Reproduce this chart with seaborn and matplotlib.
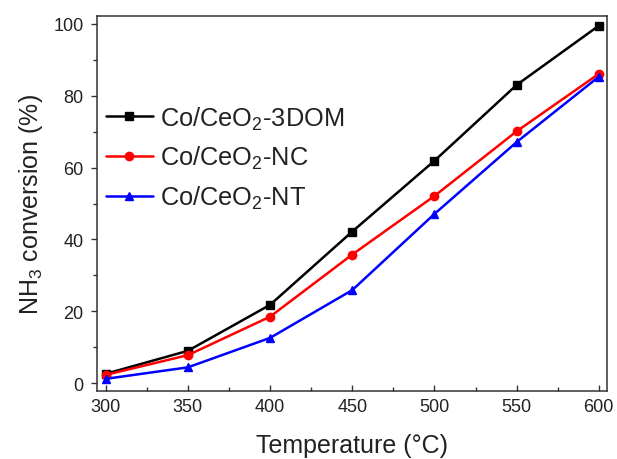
import matplotlib
matplotlib.use("Agg")
import matplotlib.pyplot as plt
from matplotlib.ticker import MultipleLocator
import seaborn as sns
import pandas as pd

temperature = [300, 350, 400, 450, 500, 550, 600]
conv_3dom = [2.6, 9.0, 21.8, 42.2, 61.9, 83.0, 99.5]
conv_nc = [2.3, 7.8, 18.5, 35.8, 52.1, 70.1, 86.1]
conv_nt = [1.2, 4.4, 12.6, 25.9, 47.1, 67.1, 85.3]

series_names = ["Co/CeO$_2$-3DOM", "Co/CeO$_2$-NC", "Co/CeO$_2$-NT"]
series_values = [conv_3dom, conv_nc, conv_nt]
series_colors = ["#000000", "#ff0000", "#0000ff"]
series_markers = ["s", "o", "^"]

rows = []
for name, vals in zip(series_names, series_values):
    for t, v in zip(temperature, vals):
        rows.append({"Temperature": t, "Conversion": v, "Sample": name})
df = pd.DataFrame(rows)

sns.set_theme(style="ticks")
plt.rcParams["font.family"] = ["Liberation Sans", "DejaVu Sans"]
plt.rcParams["mathtext.fontset"] = "custom"
plt.rcParams["mathtext.rm"] = "Liberation Sans"
plt.rcParams["mathtext.it"] = "Liberation Sans:italic"
plt.rcParams["mathtext.default"] = "regular"

fig = plt.figure(figsize=(6.17, 4.6), dpi=100)
ax = fig.add_axes([0.1567, 0.1485, 0.9838 - 0.1567, 0.963 - 0.1485])

sns.lineplot(
    data=df, x="Temperature", y="Conversion", hue="Sample", style="Sample",
    hue_order=series_names, style_order=series_names,
    palette=dict(zip(series_names, series_colors)),
    markers=dict(zip(series_names, series_markers)),
    dashes=False, linewidth=1.8, markersize=6, markeredgewidth=1.0,
    ax=ax,
)
# markers outlined in their own series colour
for line in ax.lines:
    line.set_markeredgecolor(line.get_color())

ax.set_xlim(294.5, 605)
ax.set_ylim(-2.1, 102.2)
ax.xaxis.set_major_locator(MultipleLocator(50))
ax.xaxis.set_minor_locator(MultipleLocator(25))
ax.yaxis.set_major_locator(MultipleLocator(20))
ax.yaxis.set_minor_locator(MultipleLocator(10))
ax.tick_params(axis="x", which="both", direction="in", colors="#333333",
               labelcolor="#222222", labelsize=13, width=1.0)
ax.tick_params(axis="y", which="both", direction="out", colors="#333333",
               labelcolor="#222222", labelsize=13, width=1.0)
ax.tick_params(which="major", length=4.5, pad=5)
ax.tick_params(which="minor", length=3)
for s in ax.spines.values():
    s.set_visible(True)
    s.set_linewidth(1.1)
    s.set_color("#333333")

ax.set_xlabel("Temperature (°C)", fontsize=18, color="#222222", labelpad=13)
ax.set_ylabel("NH$_3$ conversion (%)", fontsize=18, color="#222222", labelpad=6)

leg = ax.legend(loc="upper left", bbox_to_anchor=(-0.012, 0.805), frameon=False,
                fontsize=18.3, handlelength=1.85, handletextpad=0.3,
                labelspacing=0.5, borderaxespad=0.2)
for t in leg.get_texts():
    t.set_color("#222222")
for h in leg.legend_handles:
    h.set_markeredgecolor(h.get_color())

fig.savefig("out.png", dpi=100)
